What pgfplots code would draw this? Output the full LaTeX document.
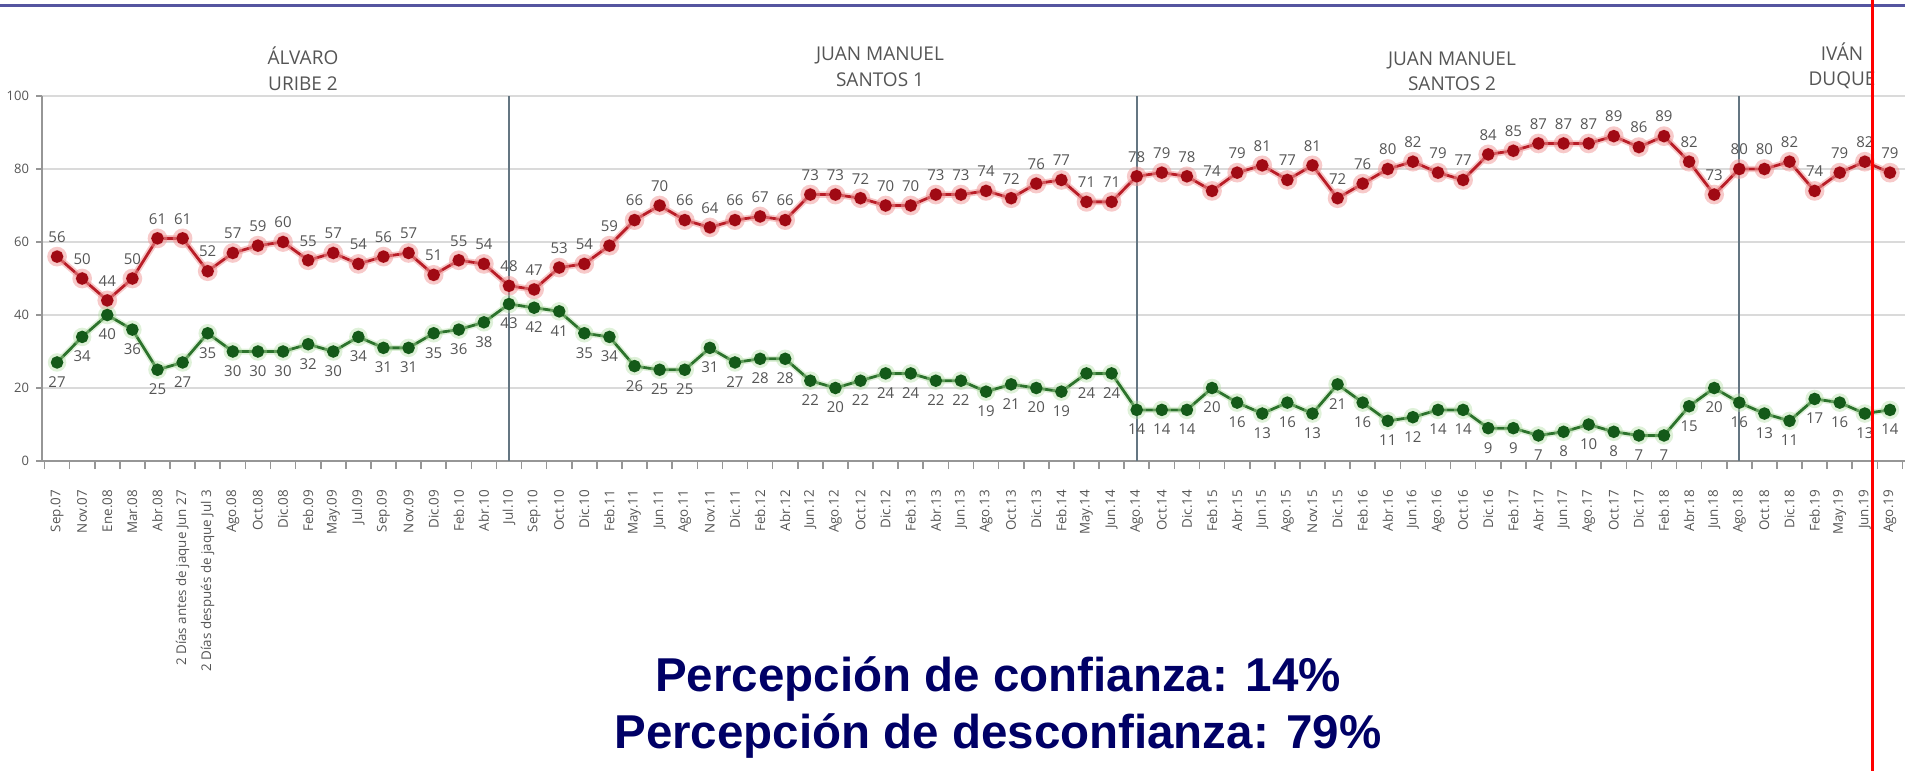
\documentclass[border=0pt]{standalone}
\usepackage{pgfplots}
\pgfplotsset{compat=1.18}
\usepackage{pgfplotstable}
\usepackage{fontspec}
\setmainfont{Open Sans}
\newfontfamily\arialf{Liberation Sans}
\definecolor{redL}{RGB}{185,30,40}
\definecolor{redM}{RGB}{160,10,20}
\definecolor{redG}{RGB}{240,150,150}
\definecolor{greenL}{RGB}{45,115,45}
\definecolor{greenM}{RGB}{20,90,25}
\definecolor{greenG}{RGB}{175,220,160}
\definecolor{navy}{RGB}{0,0,102}
\definecolor{topline}{RGB}{85,85,160}
\definecolor{sepc}{RGB}{100,118,130}
\definecolor{lab}{RGB}{85,85,85}
\definecolor{gridc}{RGB}{218,218,218}
\definecolor{axc}{RGB}{150,150,150}

\pgfplotstableread{
x r g
0 56 27
1 50 34
2 44 40
3 50 36
4 61 25
5 61 27
6 52 35
7 57 30
8 59 30
9 60 30
10 55 32
11 57 30
12 54 34
13 56 31
14 57 31
15 51 35
16 55 36
17 54 38
18 48 43
19 47 42
20 53 41
21 54 35
22 59 34
23 66 26
24 70 25
25 66 25
26 64 31
27 66 27
28 67 28
29 66 28
30 73 22
31 73 20
32 72 22
33 70 24
34 70 24
35 73 22
36 73 22
37 74 19
38 72 21
39 76 20
40 77 19
41 71 24
42 71 24
43 78 14
44 79 14
45 78 14
46 74 20
47 79 16
48 81 13
49 77 16
50 81 13
51 72 21
52 76 16
53 80 11
54 82 12
55 79 14
56 77 14
57 84 9
58 85 9
59 87 7
60 87 8
61 87 10
62 89 8
63 86 7
64 89 7
65 82 15
66 73 20
67 80 16
68 80 13
69 82 11
70 74 17
71 79 16
72 82 13
73 79 14
}\data

\begin{document}
\begin{tikzpicture}
\useasboundingbox (0,0) rectangle (952.5pt,-385.5pt);
\begin{axis}[
  at={(21pt,-230.5pt)}, anchor=south west,
  scale only axis, width=931.5pt, height=182.5pt,
  xmin=-0.6, xmax=73.6, ymin=0, ymax=100,
  axis x line=bottom, axis y line=left,
  axis line style={-, draw=axc, line width=1pt},
  ytick={0,20,40,60,80,100},
  ymajorgrids, grid style={gridc, line width=0.8pt},
  /pgf/number format/assume math mode=true,
  yticklabel style={font=\fontsize{6.5}{7}\selectfont, text=lab},
  xtick={0,...,73},
  xticklabels={Sep.07, Nov.07, Ene.08, Mar.08, Abr.08, 2 Días antes de jaque Jun 27, 2 Días después de jaque Jul 3, Ago.08, Oct.08, Dic.08, Feb.09, May.09, Jul.09, Sep.09, Nov.09, Dic.09, Feb.10, Abr.10, Jul.10, Sep.10, Oct.10, Dic.10, Feb.11, May.11, Jun.11, Ago.11, Nov.11, Dic.11, Feb.12, Abr.12, Jun.12, Ago.12, Oct.12, Dic.12, Feb.13, Abr.13, Jun.13, Ago.13, Oct.13, Dic.13, Feb.14, May.14, Jun.14, Ago.14, Oct.14, Dic.14, Feb.15, Abr.15, Jun.15, Ago.15, Nov.15, Dic.15, Feb.16, Abr.16, Jun.16, Ago.16, Oct.16, Dic.16, Feb.17, Abr.17, Jun.17, Ago.17, Oct.17, Dic.17, Feb.18, Abr.18, Jun.18, Ago.18, Oct.18, Dic.18, Feb.19, May.19, Jun.19, Ago.19},
  xticklabel style={font=\fontsize{6.7}{7.5}\selectfont, text=lab, rotate=90, anchor=east, xshift=-8pt},
  minor xtick={-0.5,0.5,...,73.5},
  major x tick style={draw=none},
  minor tick length=4pt, major tick length=3pt,
  tick style={draw=axc, line width=0.8pt},
  tick align=outside,
  clip=false,
]
\addplot[sepc, line width=1pt, forget plot] coordinates {(18,0) (18,100)};
\addplot[sepc, line width=1pt, forget plot] coordinates {(43,0) (43,100)};
\addplot[sepc, line width=1pt, forget plot] coordinates {(67,0) (67,100)};
% glow
\addplot[redG, opacity=0.5, line width=3.2pt, mark=*, mark size=3.3pt, mark options={fill=redG, draw=none}] table[x=x,y=r]{\data};
\addplot[greenG, opacity=0.4, line width=3.0pt, mark=*, mark size=3.1pt, mark options={fill=greenG, draw=none}] table[x=x,y=g]{\data};
% main
\addplot[redL, line width=1.4pt, mark=*, mark size=2.4pt, mark options={fill=redM, draw=redM},
  nodes near coords, every node near coord/.append style={font=\fontsize{7.5}{8}\selectfont, text=lab, anchor=south, yshift=3pt}] table[x=x,y=r]{\data};
\addplot[greenL, line width=1.4pt, mark=*, mark size=2.4pt, mark options={fill=greenM, draw=greenM},
  nodes near coords, every node near coord/.append style={font=\fontsize{7.5}{8}\selectfont, text=lab, anchor=north, yshift=-3pt}] table[x=x,y=g]{\data};
\end{axis}
\begin{scope}[x=0.5pt,y=-0.5pt]
\draw[topline, line width=1.5pt] (0,5) -- (1905,5);
\tikzset{hdr/.style={anchor=base, font=\fontsize{9.5}{11}\selectfont, text=lab}}
\node[hdr] at (303,64) {ÁLVARO};
\node[hdr] at (303,90) {URIBE 2};
\node[hdr] at (880,60) {JUAN MANUEL};
\node[hdr] at (880,86) {SANTOS 1};
\node[hdr] at (1452,65) {JUAN MANUEL};
\node[hdr] at (1452,90) {SANTOS 2};
\node[hdr] at (1842,60) {IVÁN};
\node[hdr] at (1842,85) {DUQUE};
\tikzset{big/.style={anchor=base, font=\arialf\bfseries\fontsize{23.75}{28}\selectfont, text=navy}}
\node[big] at (998,691) {Percepción de confianza: 14\%};
\node[big] at (998,748) {Percepción de desconfianza: 79\%};
\draw[red, line width=1.5pt] (1872,0) -- (1872,771);
\end{scope}
\end{tikzpicture}
\end{document}
